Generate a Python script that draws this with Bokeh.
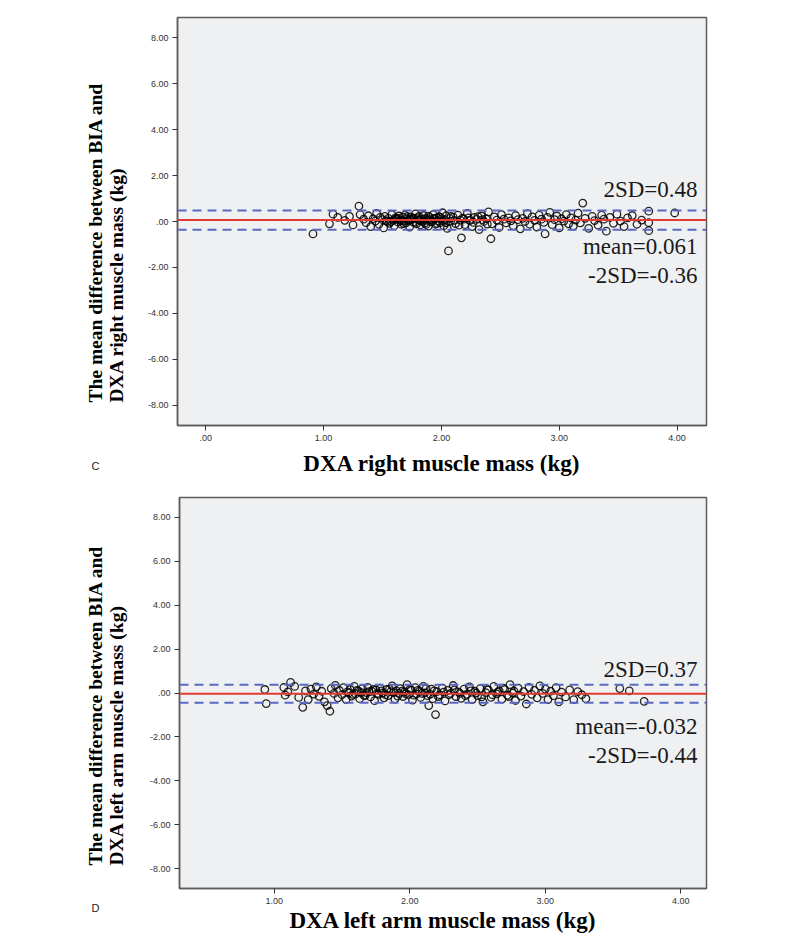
import math
from bokeh.plotting import figure
from bokeh.models import Span, Label, FixedTicker, Range1d, LinearAxis
from bokeh.layouts import column, row
from bokeh.embed import file_html
from bokeh.resources import INLINE

# ---------------- data ----------------
y_ticks = [-8, -6, -4, -2, 0, 2, 4, 6, 8]
top_x_ticks = [0, 1, 2, 3, 4]
bot_x_ticks = [1, 2, 3, 4]

top_mean, top_hi, top_lo = 0.061, 0.48, -0.36
bot_mean, bot_hi, bot_lo = -0.032, 0.37, -0.44

top_x = [0.91, 1.05, 1.08, 1.12, 1.18, 1.22, 1.25, 1.30, 1.31, 1.34, 1.36, 1.38, 1.40, 1.42, 1.44, 1.45,
         1.47, 1.48, 1.50, 1.51, 1.52, 1.54, 1.55, 1.56, 1.58, 1.59, 1.60, 1.61, 1.62, 1.63, 1.64, 1.65,
         1.66, 1.67, 1.68, 1.69, 1.70, 1.71, 1.72, 1.73, 1.74, 1.75, 1.76, 1.77, 1.78, 1.79, 1.80, 1.81,
         1.82, 1.83, 1.84, 1.85, 1.86, 1.87, 1.88, 1.89, 1.90, 1.91, 1.92, 1.93, 1.94, 1.95, 1.96, 1.97,
         1.98, 1.99, 2.00, 2.01, 2.02, 2.03, 2.04, 2.05, 2.06, 2.07, 2.08, 2.10, 2.12, 2.14, 2.16, 2.17,
         2.18, 2.20, 2.22, 2.24, 2.26, 2.28, 2.30, 2.32, 2.34, 2.36, 2.38, 2.40, 2.42, 2.43, 2.45, 2.47,
         2.49, 2.51, 2.53, 2.55, 2.57, 2.59, 2.61, 2.63, 2.65, 2.67, 2.69, 2.71, 2.73, 2.75, 2.77, 2.79,
         2.81, 2.83, 2.85, 2.87, 2.88, 2.90, 2.92, 2.94, 2.96, 2.98, 3.00, 3.02, 3.04, 3.06, 3.08, 3.10,
         3.12, 3.14, 3.16, 3.18, 3.20, 3.22, 3.25, 3.28, 3.30, 3.33, 3.36, 3.38, 3.40, 3.43, 3.46, 3.49,
         3.52, 3.55, 3.58, 3.62, 3.66, 3.70, 3.76, 3.76, 3.76, 3.98,
         1.53, 1.57, 1.60, 1.63, 1.66, 1.68, 1.71, 1.73, 1.76, 1.78, 1.80, 1.82, 1.85, 1.87, 1.89, 1.91,
         1.94, 1.96, 1.99, 2.01, 2.04, 2.08, 2.11, 2.15, 2.19, 2.23, 2.27, 2.31, 2.35, 2.39]
top_y = [-0.54, -0.10, 0.32, 0.18, 0.05, 0.22, -0.15, 0.67, 0.30, 0.10, -0.05, 0.25, -0.22, 0.12, 0.02, 0.35,
         -0.12, 0.18, 0.08, -0.28, 0.22, 0.00, 0.14, -0.08, 0.30, 0.05, -0.18, 0.16, 0.10, -0.02, 0.24, 0.06,
         -0.12, 0.19, 0.02, 0.28, -0.06, 0.12, 0.04, -0.24, 0.20, 0.09, -0.03, 0.15, 0.33, -0.10, 0.07, 0.22,
         -0.15, 0.11, 0.01, 0.26, -0.07, 0.13, 0.05, -0.20, 0.18, 0.08, -0.01, 0.30, 0.10, -0.12, 0.16, 0.03,
         0.21, -0.05, 0.12, 0.38, -0.18, 0.07, 0.25, -0.30, -1.28, 0.14, 0.02, 0.19, -0.09, 0.28, 0.06, -0.71,
         0.15, -0.14, 0.35, 0.04, -0.22, 0.18, 0.09, -0.35, 0.24, 0.00, 0.12, 0.42, -0.75, -0.10, 0.20, 0.06,
         -0.26, 0.30, 0.10, -0.06, 0.16, 0.03, -0.18, 0.26, 0.08, -0.32, 0.14, 0.00, 0.34, -0.12, 0.20, 0.05,
         -0.24, 0.28, 0.10, -0.04, -0.54, 0.18, 0.40, -0.14, 0.08, 0.24, -0.28, 0.12, 0.02, 0.30, -0.10, 0.16,
         -0.20, 0.06, 0.36, -0.06, 0.80, 0.14, -0.30, 0.22, 0.04, -0.16, 0.28, 0.10, -0.42, 0.18, -0.08, 0.32,
         0.02, -0.22, 0.16, 0.26, -0.12, 0.06, 0.45, -0.05, -0.40, 0.37,
         0.04, -0.01, 0.09, 0.13, 0.03, -0.09, 0.21, 0.08, 0.14, -0.04, 0.17, 0.04, 0.10, -0.13, 0.23, 0.00,
         0.14, -0.08, 0.19, 0.03, -0.06, 0.22, 0.05, -0.16, 0.10, 0.16, -0.04, 0.21, 0.08, -0.11]

bot_x = [0.93, 0.94, 1.07, 1.08, 1.12, 1.10, 1.15, 1.18, 1.21, 1.23, 1.25, 1.27, 1.29, 1.31, 1.33, 1.35,
         1.37, 1.39, 1.41, 1.42, 1.44, 1.45, 1.47, 1.48, 1.50, 1.51, 1.53, 1.54, 1.56, 1.57, 1.59, 1.60,
         1.62, 1.63, 1.65, 1.66, 1.68, 1.69, 1.71, 1.72, 1.74, 1.75, 1.77, 1.78, 1.80, 1.81, 1.83, 1.84,
         1.86, 1.87, 1.89, 1.90, 1.92, 1.93, 1.95, 1.96, 1.98, 1.99, 2.01, 2.02, 2.04, 2.05, 2.07, 2.08,
         2.10, 2.11, 2.13, 2.14, 2.16, 2.17, 2.19, 2.20, 2.22, 2.24, 2.26, 2.28, 2.30, 2.32, 2.34, 2.36,
         2.38, 2.40, 2.42, 2.44, 2.46, 2.48, 2.50, 2.52, 2.54, 2.56, 2.58, 2.60, 2.62, 2.64, 2.66, 2.68,
         2.70, 2.72, 2.74, 2.76, 2.78, 2.80, 2.82, 2.84, 2.86, 2.88, 2.90, 2.92, 2.94, 2.96, 2.98, 3.00,
         3.02, 3.04, 3.06, 3.08, 3.10, 3.12, 3.15, 3.18, 3.21, 3.24, 3.27, 3.30, 3.55, 3.62, 3.73,
         1.55, 1.58, 1.61, 1.64, 1.67, 1.70, 1.73, 1.76, 1.79, 1.82, 1.85, 1.88, 1.91, 1.94, 1.97, 2.00,
         2.03, 2.06, 2.09, 2.12, 2.15, 2.18, 2.21, 2.25, 2.29, 2.33, 2.37, 2.41, 2.45, 2.49, 2.53, 2.57,
         2.61, 2.65, 2.69, 2.73, 2.77]
bot_y = [0.16, -0.48, 0.25, -0.10, 0.48, 0.05, 0.30, -0.20, -0.65, 0.10, -0.30, 0.18, -0.05, 0.28, -0.15, 0.08,
         -0.40, -0.57, -0.83, 0.20, -0.02, 0.35, -0.22, 0.12, -0.08, 0.24, -0.30, 0.05, 0.16, -0.14, 0.30, -0.04,
         0.10, -0.26, 0.20, -0.10, 0.02, 0.26, -0.18, 0.08, -0.35, 0.14, -0.06, 0.22, 0.00, -0.22, 0.16, -0.12,
         0.06, 0.32, -0.28, 0.10, -0.02, 0.20, -0.16, 0.04, 0.38, -0.08, 0.14, -0.32, 0.24, -0.04, 0.08, -0.20,
         0.30, 0.00, -0.12, -0.57, 0.18, -0.26, -0.98, 0.06, -0.08, 0.22, -0.36, 0.12, -0.02, 0.34, -0.16, 0.04,
         -0.24, 0.18, -0.06, 0.28, -0.30, 0.08, -0.12, 0.20, -0.40, 0.02, 0.14, -0.20, 0.30, -0.04, 0.10, -0.28,
         0.16, -0.10, 0.38, 0.00, -0.34, 0.22, -0.14, 0.06, -0.50, 0.26, -0.06, 0.12, -0.22, 0.32, -0.02, 0.18,
         -0.30, 0.08, -0.12, 0.24, -0.40, 0.04, -0.18, 0.14, -0.30, 0.06, -0.08, -0.26, 0.20, 0.10, -0.38,
         0.00, -0.06, 0.12, 0.02, -0.12, 0.06, 0.16, -0.02, 0.10, -0.08, 0.18, 0.02, -0.14, 0.08, -0.04, 0.16,
         -0.10, 0.12, -0.02, 0.20, -0.06, 0.10, -0.16, 0.04, -0.08, 0.14, -0.02, -0.12, 0.10, 0.00, -0.18, 0.16,
         -0.08, 0.04, 0.22, -0.16, 0.08]

SERIF = "Liberation Serif"
SANS = "Liberation Sans"
RED = "#e23b33"
BLUE = "#5a68c4"
FRAME_BG = "#eff0f2"
EDGE = "#5c5c5c"

SIDE_W = 138      # width of the left strip holding the rotated y title
SIDE_PAD = 52     # left border of the strip, so that its frame is centred on x=95
FRAME_RIGHT = 706
PAGE_W = 792


def fmt(v):
    return ".00" if v == 0 else f"{v:.2f}"


def panel(xs, ys, x_ticks, xr, yr, mean, hi, lo, xlabel, ylab1, ylab2, letter,
          fig_top, frame_left, frame_top, frame_h, border_bottom, ylab_bottom, letter_gap,
          xlabel_standoff):
    bt = frame_top - fig_top
    height = bt + frame_h + border_bottom
    width = PAGE_W - SIDE_W
    frame_w = FRAME_RIGHT - frame_left

    def dx(px):
        return xr[0] + (px - frame_left) / frame_w * (xr[1] - xr[0])

    def dy(py):
        return yr[1] - (py - frame_top) / frame_h * (yr[1] - yr[0])

    p = figure(width=width, height=height, output_backend="svg", toolbar_location=None,
               x_range=Range1d(*xr), y_range=Range1d(*yr),
               min_border_left=frame_left - SIDE_W, min_border_right=PAGE_W - FRAME_RIGHT,
               min_border_top=bt, min_border_bottom=border_bottom)
    p.background_fill_color = FRAME_BG
    p.border_fill_color = "white"
    p.outline_line_color = EDGE
    p.outline_line_width = 1.5
    p.grid.visible = False

    for ax, ticks in ((p.xaxis, x_ticks), (p.yaxis, y_ticks)):
        ax.ticker = FixedTicker(ticks=ticks)
        ax.major_label_overrides = {t: fmt(t) for t in ticks}
        ax.minor_tick_line_color = None
        ax.major_tick_in = 0
        ax.major_tick_out = 5
        ax.major_tick_line_color = "#333333"
        ax.axis_line_color = EDGE
        ax.axis_line_width = 1.5
        ax.major_label_text_font = SANS
        ax.major_label_text_font_size = "9px"
        ax.major_label_text_color = "#333333"
        ax.major_label_standoff = 4

    p.xaxis.axis_label = xlabel
    p.xaxis.axis_label_text_font = SERIF
    p.xaxis.axis_label_text_font_style = "bold"
    p.xaxis.axis_label_text_font_size = "23px"
    p.xaxis.axis_label_text_color = "black"
    p.xaxis.axis_label_standoff = xlabel_standoff

    p.scatter(xs, ys, marker="circle", size=7.5, fill_color=None, line_color="black",
              line_alpha=0.85, line_width=1.3)

    p.add_layout(Span(location=hi, dimension="width", line_color=BLUE, line_width=2,
                      line_dash="9 6"))
    p.add_layout(Span(location=lo, dimension="width", line_color=BLUE, line_width=2,
                      line_dash="9 6"))
    p.add_layout(Span(location=mean, dimension="width", line_color=RED, line_width=2))

    for txt, py in ((f"2SD={hi}", frame_top + 172), (f"mean={mean}", frame_top + 229),
                    (f"-2SD={lo}", frame_top + 258)):
        p.add_layout(Label(x=dx(697), y=dy(py), text=txt, text_font=SERIF,
                           text_font_size="23px", text_align="right", text_baseline="middle",
                           text_color="#1a1a1a"))

    # left strip: a blank figure; its frame is aligned with the plot frame, and its
    # data coordinates are page pixels
    s = figure(width=SIDE_W, height=height, output_backend="svg", toolbar_location=None,
               x_range=Range1d(SIDE_PAD, SIDE_W), y_range=Range1d(frame_top + frame_h, frame_top),
               x_axis_type=None, y_axis_type=None, min_border=0)
    s.min_border_left = SIDE_PAD
    s.min_border_right = 0
    s.min_border_top = bt
    s.min_border_bottom = border_bottom
    s.outline_line_color = None
    s.grid.visible = False
    s.background_fill_color = "white"
    s.border_fill_color = "white"
    s.add_layout(Label(x=95, y=ylab_bottom, text=ylab1, angle=math.pi / 2, text_font=SERIF,
                       text_font_size="19.5px", text_font_style="bold", text_align="left",
                       text_baseline="middle", text_color="black"))
    s.add_layout(Label(x=116, y=ylab_bottom, text=ylab2, angle=math.pi / 2, text_font=SERIF,
                       text_font_size="19.5px", text_font_style="bold", text_align="left",
                       text_baseline="middle", text_color="black"))
    # panel letter as the label of an invisible axis under the strip (centred on x=95)
    letter_axis = LinearAxis(ticker=FixedTicker(ticks=[]), axis_label=letter,
                             axis_line_color=None, major_tick_line_color=None,
                             minor_tick_line_color=None, major_tick_out=0, major_tick_in=0,
                             major_label_standoff=0, major_label_text_font_size="1px",
                             axis_label_standoff=letter_gap, axis_label_text_font=SANS,
                             axis_label_text_font_size="11px",
                             axis_label_text_font_style="normal",
                             axis_label_text_color="#222222")
    s.add_layout(letter_axis, "below")
    return row(s, p, spacing=0)


r1 = panel(top_x, top_y, top_x_ticks, (-0.24, 4.25), (-8.87, 8.87), top_mean, top_hi, top_lo,
           "DXA right muscle mass (kg)", "The mean difference between BIA and",
           "DXA right muscle mass (kg)", "C",
           fig_top=0, frame_left=177, frame_top=17, frame_h=408, border_bottom=60,
           ylab_bottom=402, letter_gap=34, xlabel_standoff=7)
r2 = panel(bot_x, bot_y, bot_x_ticks, (0.30, 4.19), (-8.89, 8.89), bot_mean, bot_hi, bot_lo,
           "DXA left arm muscle mass (kg)", "The mean difference between BIA and",
           "DXA left arm muscle mass (kg)", "D",
           fig_top=485, frame_left=179, frame_top=497, frame_h=391, border_bottom=56,
           ylab_bottom=865, letter_gap=13, xlabel_standoff=1)

layout = column(r1, r2, spacing=0)
open("out.html", "w").write(file_html(layout, INLINE))
